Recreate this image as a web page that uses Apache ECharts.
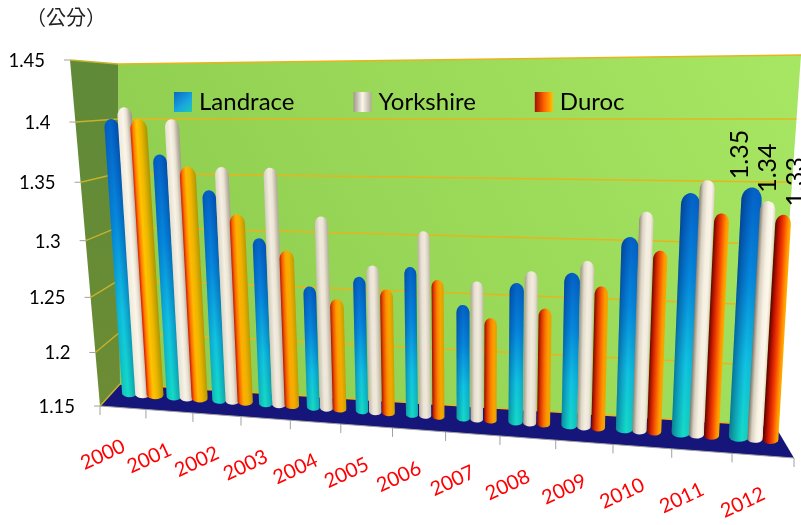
<!DOCTYPE html>
<html>
<head>
<meta charset="utf-8">
<title>chart</title>
<script src="https://cdn.jsdelivr.net/npm/echarts@6/dist/echarts.min.js"></script>
<style>
  html, body { margin: 0; padding: 0; background: #fff; }
  #chart { width: 801px; height: 525px; }
</style>
</head>
<body>
<div id="chart"></div>
<script>
const years = ['2000', '2001', '2002', '2003', '2004', '2005', '2006', '2007', '2008', '2009', '2010', '2011', '2012'];
const landrace = [1.40, 1.37, 1.34, 1.30, 1.26, 1.27, 1.28, 1.25, 1.27, 1.28, 1.31, 1.345, 1.35];
const yorkshire = [1.41, 1.40, 1.36, 1.36, 1.32, 1.28, 1.31, 1.27, 1.28, 1.29, 1.33, 1.355, 1.34];
const duroc = [1.40, 1.36, 1.32, 1.29, 1.25, 1.26, 1.27, 1.24, 1.25, 1.27, 1.30, 1.33, 1.33];
const yTicks = [1.15, 1.2, 1.25, 1.3, 1.35, 1.4, 1.45];

const W = 801, H = 525;

// builds a unit square -> quad mapping, corners TL, TR, BR, BL
function plane(q) {
  const [x0, y0] = q[0], [x1, y1] = q[1], [x2, y2] = q[2], [x3, y3] = q[3];
  const dx1 = x1 - x2, dx2 = x3 - x2, sx = x0 - x1 + x2 - x3;
  const dy1 = y1 - y2, dy2 = y3 - y2, sy = y0 - y1 + y2 - y3;
  const den = dx1 * dy2 - dx2 * dy1;
  const g = (sx * dy2 - dx2 * sy) / den, h = (dx1 * sy - sx * dy1) / den;
  const a = x1 - x0 + g * x1, b = x3 - x0 + h * x3;
  const d = y1 - y0 + g * y1, e = y3 - y0 + h * y3;
  return (s, t) => {
    const w = g * s + h * t + 1;
    return [(a * s + b * t + x0) / w, (d * s + e * t + y0) / w];
  };
}

const backPlane = plane([[118, 64], [801, 55], [775, 426], [120, 384]]);
const barPlane = plane([[96, 60], [808, 50], [784, 445], [119, 396.5]]);
const frontPlane = plane([[70, 60], [835, 50], [794, 458], [100, 406]]);

const grad = (p, q, stops) => new echarts.graphic.LinearGradient(p[0], p[1], q[0], q[1], stops, true);

// shading across a bar changes from the left of the chart to the right
function mixStops(a, b, k) {
  return a.map((s, n) => ({ offset: s[0] + (b[n][0] - s[0]) * k, color: echarts.color.lerp(k, [s[1], b[n][1]]) }));
}
const orangeL = [[0, '#e02000'], [0.14, '#ff7a00'], [0.36, '#ffc400'], [0.6, '#eeb800'], [1, '#a89400']];
const orangeR = [[0, '#600000'], [0.3, '#cc1800'], [0.58, '#f84800'], [0.82, '#ff9000'], [1, '#ffb400']];
const whiteL = [[0, '#efe8d8'], [0.4, '#fbf6ea'], [0.62, '#e8e0d0'], [0.82, '#b8b0a0'], [1, '#9c9484']];
const whiteR = [[0, '#807868'], [0.25, '#d8d0c0'], [0.55, '#f8f2e4'], [0.8, '#fdf8ec'], [1, '#e0d8c8']];
const shadeL = [[0, 'rgba(0,20,90,0.12)'], [0.4, 'rgba(0,40,160,0)'], [1, 'rgba(0,20,90,0.35)']];
const shadeR = [[0, 'rgba(0,20,70,0.45)'], [0.6, 'rgba(0,40,160,0)'], [1, 'rgba(0,40,120,0.1)']];

function barItem(k, kind) {
  return function (params, api) {
    const i = api.value(0);
    const val = api.value(1);
    const band = api.size([1, 0])[0];
    const c = api.coord([i, val]);
    const c0 = api.coord([i, 1.15]);
    const leftSide = Math.max(0, 6 - i) / 6, rightSide = Math.max(0, i - 6) / 6;
    // the side of each cylinder shows more toward the ends of the floor
    let extra = 0;
    if (kind === 'blue') extra = 0.08 * leftSide + 0.1 * rightSide;
    if (kind === 'white') extra = 0.08 * leftSide + 0.02 * rightSide;
    if (kind === 'orange') extra = 0.13 * leftSide + 0.02 * rightSide;
    const base = band * 0.23;
    const bw = base + band * extra;
    const mid0 = c[0] + k * band * 0.26;
    const mid = kind === 'blue' ? mid0 : mid0 + band * extra / 2;
    const sL = (mid - bw / 2) / W, sR = (mid + bw / 2) / W;
    const tT = c[1] / H, tB = c0[1] / H;
    const topL = barPlane(sL, tT), topR = barPlane(sR, tT);
    const botL = barPlane(sL, tB), botR = barPlane(sR, tB);
    const width = Math.hypot(topR[0] - topL[0], topR[1] - topL[1]);
    let ax = [topL[0] - botL[0], topL[1] - botL[1]];
    const len = Math.hypot(ax[0], ax[1]);
    ax = [ax[0] / len, ax[1] / len];
    const cap = width * 0.62, foot = width * 0.28;
    const pts = [];
    const sh = [[topL[0] - ax[0] * cap, topL[1] - ax[1] * cap], [topR[0] - ax[0] * cap, topR[1] - ax[1] * cap]];
    const ctr = [(sh[0][0] + sh[1][0]) / 2, (sh[0][1] + sh[1][1]) / 2];
    const hw = [(sh[1][0] - sh[0][0]) / 2, (sh[1][1] - sh[0][1]) / 2];
    for (let n = 0; n <= 14; n++) {
      const th = Math.PI - Math.PI * n / 14;
      pts.push([ctr[0] + hw[0] * Math.cos(th) + ax[0] * cap * Math.sin(th), ctr[1] + hw[1] * Math.cos(th) + ax[1] * cap * Math.sin(th)]);
    }
    const fs = [[botR[0] + ax[0] * foot, botR[1] + ax[1] * foot], [botL[0] + ax[0] * foot, botL[1] + ax[1] * foot]];
    const fc = [(fs[0][0] + fs[1][0]) / 2, (fs[0][1] + fs[1][1]) / 2];
    for (let n = 0; n <= 10; n++) {
      const th = Math.PI * n / 10;
      pts.push([fc[0] + hw[0] * Math.cos(th) - ax[0] * foot * Math.sin(th), fc[1] + hw[1] * Math.cos(th) - ax[1] * foot * Math.sin(th)]);
    }
    // gradient across the bar, perpendicular to its lean
    const acrossA = botL;
    const acrossB = [botL[0] + ax[1] * -1 * width, botL[1] + ax[0] * width];
    const mix = i / 12;
    const children = [];
    if (kind === 'blue') {
      children.push({
        type: 'polygon', shape: { points: pts },
        style: {
          fill: grad(topL, botL, [
            { offset: 0, color: '#0462c6' }, { offset: 0.35, color: '#0588dc' },
            { offset: 0.7, color: '#10c4e0' }, { offset: 1, color: '#14dcc4' }
          ])
        }
      });
      children.push({ type: 'polygon', shape: { points: pts }, style: { fill: grad(acrossA, acrossB, mixStops(shadeL, shadeR, mix)) } });
    } else {
      children.push({
        type: 'polygon', shape: { points: pts },
        style: { fill: grad(acrossA, acrossB, kind === 'white' ? mixStops(whiteL, whiteR, mix) : mixStops(orangeL, orangeR, mix)) }
      });
    }
    // value labels only on the last group
    if (i === years.length - 1) {
      const top0 = barPlane(mid0 / W, tT);
      children.push({
        type: 'text', x: top0[0] + k * 12.5, y: top0[1] - 33, rotation: Math.PI / 2,
        style: { text: val.toFixed(2), fill: '#000', font: '25px Lato', align: 'center', verticalAlign: 'middle' }
      });
    }
    return { type: 'group', children };
  };
}

function wallItem() {
  const bTL = backPlane(0, 0), bTR = backPlane(1, 0), bBR = backPlane(1, 1), bBL = backPlane(0, 1);
  const fTL = frontPlane(0, 0), fBR = frontPlane(1, 1), fBL = frontPlane(0, 1);
  return {
    type: 'group',
    children: [
      {
        type: 'polygon', shape: { points: [bTL, bTR, bBR, bBL] },
        style: { fill: grad([118, 400], [780, 60], [{ offset: 0, color: '#8dca4e' }, { offset: 1, color: '#a6e662' }]) }
      },
      {
        type: 'polygon', shape: { points: [fTL, bTL, bBL, fBL] },
        style: { fill: grad([90, 60], [90, 400], [{ offset: 0, color: '#5f8a38' }, { offset: 1, color: '#6c8c34' }]) }
      },
      { type: 'polygon', shape: { points: [fBL, fBR, bBR, bBL] }, style: { fill: '#16167a' } }
    ]
  };
}

function gridItem(params, api) {
  const val = api.value(1);
  const t = api.coord([0, val])[1] / H;
  const f = frontPlane(0, t), b0 = backPlane(0, t), b1 = backPlane(1, t);
  return {
    type: 'group',
    children: [
      { type: 'line', shape: { x1: f[0], y1: f[1], x2: b0[0], y2: b0[1] }, style: { stroke: '#c4b22c', lineWidth: 1.5 } },
      { type: 'line', shape: { x1: b0[0], y1: b0[1], x2: b1[0], y2: b1[1] }, style: { stroke: '#e8b41c', lineWidth: 1.5 } },
      { type: 'line', shape: { x1: f[0] - 6, y1: f[1], x2: f[0], y2: f[1] }, style: { stroke: '#a0a0a0', lineWidth: 1 } },
      {
        type: 'text', x: f[0] - 25, y: f[1] + 1,
        style: { text: String(val), fill: '#000', font: '18.5px Lato', align: 'right', verticalAlign: 'middle' }
      }
    ]
  };
}

function xAxisItem(params, api) {
  const i = api.value(0);
  const band = api.size([1, 0])[0];
  const cx = api.coord([i, 1.15])[0];
  const tB = 1;
  const left = frontPlane((cx - band / 2) / W, tB);
  const right = frontPlane((cx + band / 2) / W, tB);
  const c = frontPlane(cx / W, tB);
  const children = [
    { type: 'line', shape: { x1: left[0], y1: left[1], x2: right[0], y2: right[1] }, style: { stroke: '#a0a0a0', lineWidth: 1 } },
    { type: 'line', shape: { x1: left[0], y1: left[1], x2: left[0], y2: left[1] + 9 }, style: { stroke: '#a0a0a0', lineWidth: 1 } },
    {
      type: 'text', x: c[0] - 20, y: c[1] + 47, rotation: 25 * Math.PI / 180,
      style: { text: years[i], fill: '#ff0000', font: '20px Lato', align: 'center', verticalAlign: 'middle' }
    }
  ];
  if (i === years.length - 1) {
    children.push({ type: 'line', shape: { x1: right[0], y1: right[1], x2: right[0], y2: right[1] + 9 }, style: { stroke: '#a0a0a0', lineWidth: 1 } });
  }
  return { type: 'group', children };
}

const toData = arr => arr.map((v, i) => [i, v]);

const chart = echarts.init(document.getElementById('chart'));
chart.setOption({
  animation: false,
  backgroundColor: '#fff',
  title: {
    text: '（公分）', left: 21, top: 2,
    textStyle: { fontFamily: 'Noto Sans CJK TC', fontSize: 20, fontWeight: 'normal', color: '#222' }
  },
  legend: {
    left: 174, top: 90, padding: 0, itemWidth: 18, itemHeight: 20, itemGap: 59, icon: 'rect', selectedMode: false,
    textStyle: { fontFamily: 'Lato', fontSize: 24, color: '#000', padding: [0, 0, 0, 2] },
    data: [
      { name: 'Landrace', itemStyle: { color: new echarts.graphic.LinearGradient(0, 0, 1, 1, [{ offset: 0, color: '#0a68c4' }, { offset: 0.6, color: '#18a8e0' }, { offset: 1, color: '#1fc8b4' }]) } },
      { name: 'Yorkshire', itemStyle: { color: new echarts.graphic.LinearGradient(0, 0, 1, 0, [{ offset: 0, color: '#a09888' }, { offset: 0.5, color: '#fbf6ea' }, { offset: 1, color: '#b0a898' }]) } },
      { name: 'Duroc', itemStyle: { color: new echarts.graphic.LinearGradient(0, 0, 1, 0, [{ offset: 0, color: '#a01000' }, { offset: 0.5, color: '#ff6000' }, { offset: 1, color: '#ffc000' }]) } }
    ]
  },
  grid: { left: 0, right: 0, top: 0, bottom: 0 },
  xAxis: { type: 'category', data: years, show: false },
  yAxis: { type: 'value', min: 1.15, max: 1.45, show: false },
  series: [
    { type: 'custom', name: 'walls', silent: true, clip: false, z: 1, renderItem: wallItem, data: [[0, 1.15]] },
    { type: 'custom', name: 'gridlines', silent: true, clip: false, z: 1, renderItem: gridItem, data: yTicks.map(v => [0, v]) },
    { type: 'custom', name: 'xlabels', silent: true, clip: false, z: 1, renderItem: xAxisItem, data: toData(years.map(() => 1.15)) },
    { type: 'custom', name: 'Landrace', clip: false, z: 2, renderItem: barItem(-1, 'blue'), data: toData(landrace) },
    { type: 'custom', name: 'Yorkshire', clip: false, z: 3, renderItem: barItem(0, 'white'), data: toData(yorkshire) },
    { type: 'custom', name: 'Duroc', clip: false, z: 4, renderItem: barItem(1, 'orange'), data: toData(duroc) }
  ]
});
</script>
</body>
</html>
